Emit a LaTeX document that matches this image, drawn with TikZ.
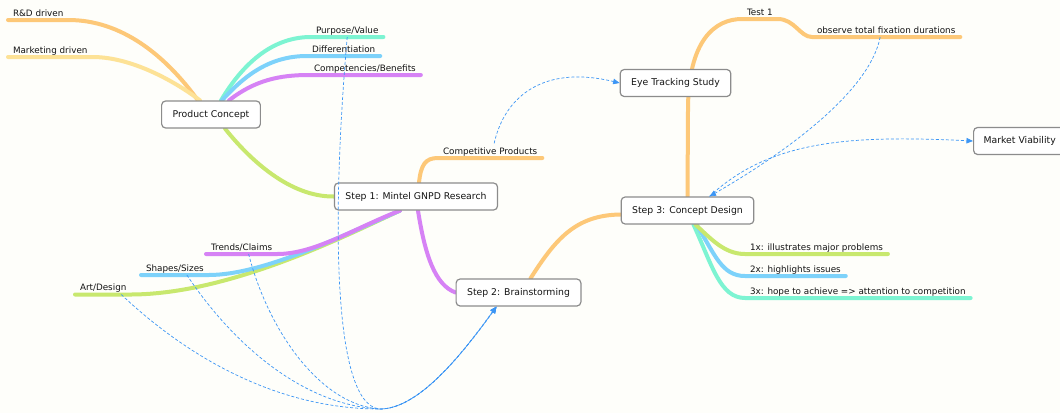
\documentclass[tikz,border=0pt]{standalone}
\usepackage{fontspec}
\newfontfamily\mapfont{DejaVu Sans}
\usetikzlibrary{arrows.meta,backgrounds}

\definecolor{paper}{RGB}{254,254,250}
\definecolor{frame}{RGB}{140,140,140}
\definecolor{ink}{RGB}{20,20,20}
\definecolor{peach}{RGB}{253,200,120}
\definecolor{butter}{RGB}{253,226,150}
\definecolor{mint}{RGB}{125,244,210}
\definecolor{sky}{RGB}{125,210,250}
\definecolor{lilac}{RGB}{214,130,245}
\definecolor{lime}{RGB}{200,232,110}
\definecolor{linkblue}{RGB}{60,150,245}

\tikzset{
  topic/.style={draw=frame, line width=1.2pt, rounded corners=4pt, fill=white, text=ink,
    font=\mapfont\fontsize{9.3}{11}\selectfont, minimum height=27pt, inner xsep=11pt},
  leaf/.style={text=ink, font=\mapfont\fontsize{8.8}{10}\selectfont, anchor=south west,
    inner xsep=5pt, inner ysep=0pt, outer xsep=0pt, outer ysep=4pt, text depth=0pt},
  branch/.style={line width=4pt, line cap=round},
  link/.style={linkblue, line width=0.7pt, dash pattern=on 3pt off 2pt,
    -{Triangle[length=6.5pt,width=5.5pt]}},
}

\begin{document}
\begin{tikzpicture}[x=1pt,y=-1pt]
  \useasboundingbox (0,0) rectangle (1060,413);

  % main topics
  \node[topic] (pc) at (211,114.5) {Product Concept};
  \node[topic] (s1) at (416,196.5) {Step 1: Mintel GNPD Research};
  \node[topic] (s2) at (518.5,292.5) {Step 2: Brainstorming};
  \node[topic] (s3) at (687.5,210.5) {Step 3: Concept Design};
  \node[topic] (ets) at (675.5,83) {Eye Tracking Study};
  \node[topic, anchor=west, inner xsep=10pt] (mv) at (973,141) {Market Viability};

  % leaves, placed at the start of their underline
  \node[leaf] (rd) at (8,20) {R\&D driven};
  \node[leaf] (md) at (8,57) {Marketing driven};
  \node[leaf] (pv) at (311,37) {Purpose/Value};
  \node[leaf] (df) at (307,56) {Differentiation};
  \node[leaf] (cb) at (309,75) {Competencies/Benefits};
  \node[leaf] (cp) at (438,158) {Competitive Products};
  \node[leaf] (tc) at (206,254) {Trends/Claims};
  \node[leaf] (ss) at (141,275) {Shapes/Sizes};
  \node[leaf] (ad) at (75,294.5) {Art/Design};
  \node[leaf] (t1) at (742,19) {Test 1};
  \node[leaf] (ob) at (812,37) {observe total fixation durations};
  \node[leaf] (x1) at (745,254) {1x: illustrates major problems};
  \node[leaf] (x2) at (745,276) {2x: highlights issues};
  \node[leaf] (x3) at (745,298) {3x: hope to achieve => attention to competition};

  \begin{pgfonlayer}{background}
    \fill[paper] (0,0) rectangle (1060,413);

    % product concept
    \draw[branch,peach] (rd.south west) -- (rd.south east)
      .. controls +(53,0) and (165,55) .. ([xshift=-13pt]pc.north);
    \draw[branch,butter] (md.south west) -- (md.south east)
      .. controls +(42,0) and (180,85) .. ([xshift=-11pt]pc.north);
    \draw[branch,mint] ([xshift=10pt]pc.north) .. controls (245,60) and (275,37) .. (pv.south west) -- (pv.south east);
    \draw[branch,sky] ([xshift=11pt]pc.north) .. controls (245,75) and (270,56) .. (df.south west) -- (df.south east);
    \draw[branch,lilac] ([xshift=18pt]pc.north) .. controls (255,80) and (280,75) .. (cb.south west) -- (cb.south east);
    \draw[branch,lime] ([xshift=14pt]pc.south) .. controls (250,160) and (290,197) .. (s1.west);

    % step 1
    \draw[branch,peach] ([xshift=3pt]s1.north) .. controls (421,165) and (425,158) .. (cp.south west) -- (cp.south east);
    \draw[branch,lime] (ad.south west) -- (ad.south east)
      .. controls (230,294) and (345,236) .. ([xshift=-16pt]s1.south);
    \draw[branch,sky] (ss.south west) -- (ss.south east)
      .. controls (265,275) and (350,232) .. ([xshift=-16pt]s1.south);
    \draw[branch,lilac] (tc.south west) -- (tc.south east)
      .. controls (315,254) and (355,228) .. ([xshift=-16pt]s1.south);
    \draw[branch,lilac] ([xshift=2pt]s1.south) .. controls (425,255) and (435,285) .. (s2.west);

    % step 2 and step 3
    \draw[branch,peach] ([xshift=12pt]s2.north) .. controls (555,240) and (575,215) .. ([yshift=-4pt]s3.west);
    \draw[branch,peach] (s3.north) -- (688,110) .. controls (688,40) and (715,19) .. (t1.south west) -- (t1.south east)
      .. controls +(17,0) and +(-12,0) .. (ob.south west) -- (ob.south east);
    \foreach \leaf/\col/\dx/\ax/\ay/\bx/\by in
      {x3/mint/6/712/265/720/298, x2/sky/9/715/255/722/276, x1/lime/8/712/240/725/254}
      \draw[branch,\col] ([xshift=\dx pt]s3.south) .. controls (\ax,\ay) and (\bx,\by) .. (\leaf.south west) -- (\leaf.south east);
  \end{pgfonlayer}

  % relationships
  \coordinate (hub) at (380,409);
  \coordinate (s2in) at ([xshift=-22pt]s2.south);
  \draw[link] ([xshift=4pt]cp.north) .. controls (505,95) and (545,65) .. (ets.west);
  \draw[link] ([xshift=-6pt]ob.south) .. controls (870,90) and (790,150) .. ([xshift=22pt]s3.north);
  \draw[link] ([xshift=22pt]s3.north) .. controls (770,140) and (850,135) .. (mv.west);
  \foreach \src/\dx/\ax/\ay/\bx/\by in
    {pv/0/333/200/330/405, tc/7/268/330/320/405, ss/12/230/340/300/405, ad/18/180/350/270/409}
    \draw[link] ([xshift=\dx pt]\src.south) .. controls (\ax,\ay) and (\bx,\by) .. (hub)
      .. controls (420,409) and (465,350) .. (s2in);
\end{tikzpicture}
\end{document}
